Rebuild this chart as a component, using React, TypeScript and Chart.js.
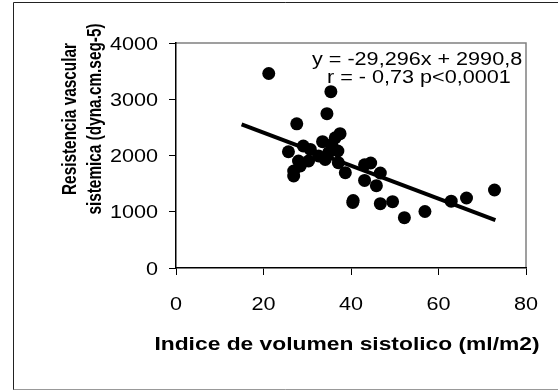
import React, { useEffect, useRef } from "react";
import { Chart, registerables } from "chart.js";
Chart.register(...registerables);

// ---- data ----
const xValues = [21.2, 35.4, 34.5, 27.6, 37.5, 36.4, 33.5, 35.6, 25.7, 29.1, 30.7, 37.0, 34.9, 32.6, 28.0, 30.3, 34.1, 37.1, 26.9, 26.9, 38.7, 28.4, 43.1, 44.5, 46.7, 43.1, 45.8, 40.4, 40.5, 46.7, 49.5, 52.2, 56.9, 62.9, 66.4, 72.8];
const yValues = [3458, 3134, 2743, 2563, 2388, 2316, 2245, 2197, 2067, 2169, 2108, 2080, 2050, 1991, 1902, 1902, 1931, 1872, 1724, 1636, 1694, 1813, 1836, 1867, 1689, 1557, 1463, 1166, 1200, 1143, 1179, 894, 1004, 1188, 1244, 1387];
const slope = -29.296;
const intercept = 2990.8;
const trendX = [15, 73];
const xTicks = [0, 20, 40, 60, 80];
const yTicks = [0, 1000, 2000, 3000, 4000];
const xTitle = "Indice de volumen sistolico (ml/m2)";
const yTitleLines = ["Resistencia vascular", "sistemica (dyna.cm.seg-5)"];
const equationLines = ["y = -29,296x + 2990,8", "r = - 0,73 p<0,0001"];

const SX = 1.2;
const FONT = '"Liberation Sans", Arial, sans-serif';

function drawText(ctx: CanvasRenderingContext2D, text: string, x: number, y: number, font: string, align: CanvasTextAlign, rotate = false, stretch = SX) {
  ctx.save();
  ctx.font = font;
  ctx.fillStyle = "#000";
  ctx.textBaseline = "alphabetic";
  ctx.textAlign = align;
  ctx.translate(x, y);
  if (rotate) {
    ctx.rotate(-Math.PI / 2);
    ctx.scale(0.96, stretch);
  } else {
    ctx.scale(stretch, 1);
  }
  ctx.fillText(text, 0, 0);
  ctx.restore();
}

const decor = {
  id: "decor",
  beforeDraw(chart: any) {
    const { ctx, chartArea: a, width, height } = chart;
    ctx.save();
    ctx.fillStyle = "#fff";
    ctx.fillRect(0, 0, width, height);
    // outer frame
    ctx.strokeStyle = "#222";
    ctx.lineWidth = 1;
    ctx.beginPath();
    ctx.moveTo(13.5, 390);
    ctx.lineTo(13.5, 2.5);
    ctx.lineTo(width, 2.5);
    ctx.stroke();
    ctx.strokeStyle = "#999";
    ctx.beginPath();
    ctx.moveTo(13.5, 389.5);
    ctx.lineTo(width, 389.5);
    ctx.stroke();
    // plot area top / right border
    ctx.strokeStyle = "#808080";
    ctx.lineWidth = 1.5;
    ctx.beginPath();
    ctx.moveTo(a.left, a.top);
    ctx.lineTo(a.right, a.top);
    ctx.lineTo(a.right, a.bottom);
    ctx.stroke();
    ctx.restore();
  },
  beforeDatasetsDraw(chart: any) {
    const { ctx } = chart;
    drawText(ctx, equationLines[0], 312, 65, `18px ${FONT}`, "left");
    drawText(ctx, equationLines[1], 327, 83.3, `18px ${FONT}`, "left");
  },
  afterDraw(chart: any) {
    const { ctx, scales } = chart;
    const xs = scales.x;
    const ys = scales.y;
    yTicks.forEach((v) => {
      drawText(ctx, String(v), 158, ys.getPixelForValue(v) + 6.5, `18px ${FONT}`, "right");
    });
    xTicks.forEach((v) => {
      drawText(ctx, String(v), xs.getPixelForValue(v), 310, `18px ${FONT}`, "center");
    });
    drawText(ctx, xTitle, 347, 350, `bold 19px ${FONT}`, "center");
    drawText(ctx, yTitleLines[0], 75.5, 119, `bold 16px ${FONT}`, "center", true, 1.3);
    drawText(ctx, yTitleLines[1], 101, 119, `bold 16px ${FONT}`, "center", true, 1.3);
  },
};

export default function App() {
  const ref = useRef<HTMLCanvasElement>(null);
  useEffect(() => {
    if (!ref.current) return;
    const points = xValues.map((x, i) => ({ x, y: yValues[i] }));
    const trend = trendX.map((x) => ({ x, y: slope * x + intercept }));
    const chart = new Chart(ref.current, {
      type: "scatter",
      data: {
        datasets: [
          {
            type: "line",
            data: trend,
            borderColor: "#000",
            borderWidth: 4,
            pointRadius: 0,
            fill: false,
          } as any,
          {
            data: points,
            backgroundColor: "#000",
            borderWidth: 0,
            pointRadius: 6.5,
            pointHoverRadius: 6.5,
          },
        ],
      },
      options: {
        animation: false,
        responsive: false,
        events: [],
        layout: { padding: { left: 0, top: 43, right: 32, bottom: 0 } },
        plugins: { legend: { display: false }, tooltip: { enabled: false } },
        scales: {
          x: {
            type: "linear",
            min: 0,
            max: 80,
            afterFit: (s: any) => { s.height = 123; },
            ticks: { stepSize: 20, color: "rgba(0,0,0,0)", font: { size: 18 } },
            grid: { display: true, drawOnChartArea: false, drawTicks: true, tickLength: 7, color: "#000", lineWidth: 1 },
            border: { display: true, color: "#000", width: 1.5 },
          },
          y: {
            type: "linear",
            min: 0,
            max: 4000,
            afterFit: (s: any) => { s.width = 176; },
            ticks: { stepSize: 1000, color: "rgba(0,0,0,0)", font: { size: 18 } },
            grid: { display: true, drawOnChartArea: false, drawTicks: true, tickLength: 7, color: "#000", lineWidth: 1 },
            border: { display: true, color: "#000", width: 1.5 },
          },
        },
      },
      plugins: [decor],
    });
    return () => chart.destroy();
  }, []);
  return (
    <div style={{ position: "fixed", left: 0, top: 0, width: 558, height: 391 }}>
      <canvas ref={ref} width={558} height={391} style={{ display: "block" }} />
    </div>
  );
}
